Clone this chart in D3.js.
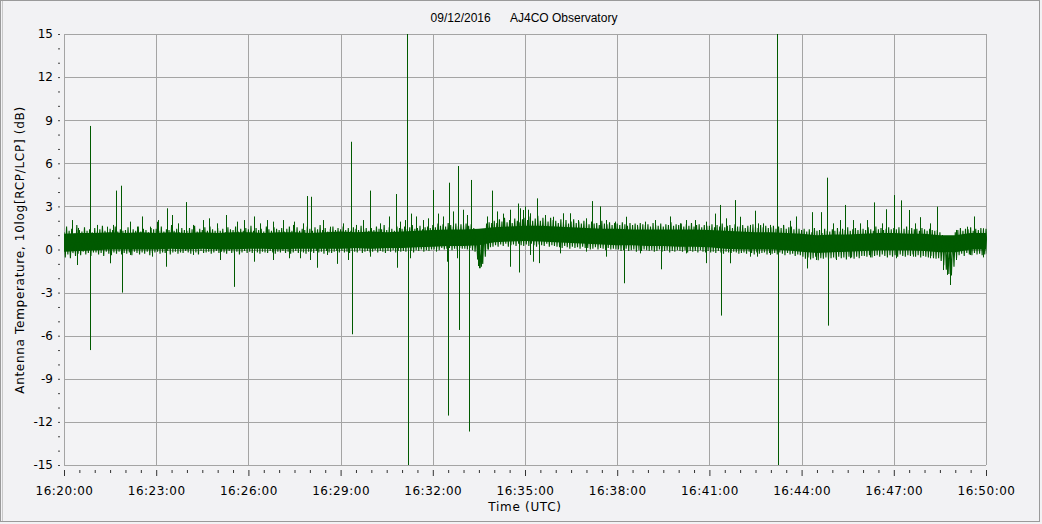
<!DOCTYPE html>
<html><head><meta charset="utf-8">
<script src="https://cdn.jsdelivr.net/npm/d3@7"></script>
<style>
html,body{margin:0;padding:0;background:#f2f2f4;}
svg{display:block;}
text{font-family:"DejaVu Sans",Verdana,sans-serif;fill:#000;}
</style></head><body>
<svg id="chart" width="1042" height="524"></svg>
<script>
// ---- Data ----
const titleDate = "09/12/2016";
const titleSite = "AJ4CO Observatory";
const yLabel = "Antenna Temperature, 10log[RCP/LCP] (dB)";
const xLabel = "Time (UTC)";
const startTime = "2016-09-12T16:20:00Z";
const endTime = "2016-09-12T16:50:00Z";
const yTicks = [-15, -12, -9, -6, -3, 0, 3, 6, 9, 12, 15];
const xTickSeconds = [0, 180, 360, 540, 720, 900, 1080, 1260, 1440, 1620, 1800];
const sampleStep = 5;  // seconds between max/min samples
const coreStep = 30;   // seconds between dense-core samples

// per-5 s maximum of the noise trace (dB), one row per minute from 16:20
const traceMax = [
 1.2,1.6,1.3,1.45,1.1,1.7,1.35,1.25,1.55,1.3,1.4,1.2,
 1.5,1.25,1.4,1.65,1.3,1.2,1.45,1.35,1.6,1.25,1.4,1.3,
 1.35,1.55,1.2,1.4,1.3,1.6,1.25,1.45,1.35,1.2,1.5,1.4,
 1.45,1.3,1.6,1.25,1.4,1.35,1.7,1.3,1.45,1.2,1.5,1.35,
 1.3,1.5,1.4,1.65,1.25,1.45,1.35,1.55,1.3,1.6,1.4,1.3,
 1.5,1.3,1.45,1.2,1.55,1.4,1.35,1.6,1.25,1.45,1.3,1.5,
 1.4,1.65,1.3,1.5,1.35,1.45,1.25,1.6,1.4,1.3,1.55,1.45,
 1.35,1.5,1.25,1.45,1.6,1.3,1.4,1.55,1.3,1.45,1.35,1.6,
 1.45,1.3,1.55,1.4,1.7,1.35,1.5,1.25,1.45,1.6,1.35,1.5,
 1.4,1.6,1.35,1.5,1.3,1.55,1.45,1.35,1.65,1.4,1.5,1.3,
 1.5,1.35,1.6,1.45,1.4,1.7,1.35,1.55,1.45,1.3,1.6,1.5,
 1.45,1.6,1.4,1.55,1.7,1.45,1.5,1.65,1.4,1.55,1.6,1.5,
 1.7,1.55,1.8,1.65,1.75,1.6,1.85,1.7,1.6,1.8,1.65,1.75,
 1.7,1.8,1.65,1.75,1.5,1.0,0.6,0.8,1.3,1.8,1.9,1.85,
 2.0,1.85,2.1,1.95,2.2,1.9,2.05,1.85,2.15,2.0,1.9,2.1,
 2.2,2.05,2.3,2.0,2.15,2.35,2.0,2.2,2.1,1.95,2.2,2.05,
 2.0,1.85,2.1,1.9,2.05,1.8,1.95,2.1,1.85,1.95,1.8,2.0,
 1.9,1.75,1.95,1.8,1.85,1.7,2.0,1.8,1.75,1.9,1.7,1.85,
 1.8,1.7,1.9,1.75,1.65,1.85,1.7,1.8,1.6,1.85,1.75,1.7,
 1.75,1.6,1.85,1.7,1.65,1.8,1.6,1.75,1.7,1.9,1.65,1.75,
 1.7,1.8,1.6,1.75,1.65,1.85,1.6,1.7,1.75,1.55,1.7,1.65,
 1.65,1.75,1.55,1.7,1.6,1.8,1.55,1.65,1.7,1.5,1.75,1.6,
 1.6,1.7,1.5,1.65,1.55,1.75,1.6,1.5,1.7,1.55,1.65,1.5,
 1.55,1.65,1.45,1.6,1.5,1.7,1.45,1.55,1.6,1.4,1.55,1.45,
 1.35,1.45,1.25,1.4,1.2,1.5,1.3,1.35,1.15,1.45,1.3,1.25,
 1.4,1.3,1.5,1.25,1.45,1.35,1.55,1.3,1.4,1.5,1.35,1.45,
 1.45,1.35,1.55,1.4,1.3,1.6,1.4,1.5,1.35,1.45,1.55,1.4,
 1.5,1.4,1.55,1.35,1.45,1.6,1.35,1.5,1.4,1.45,1.3,1.5,
 1.4,1.3,1.45,1.35,1.3,1.35,1.2,1.0,0.9,0.8,0.7,0.9,
 1.2,1.35,1.5,1.3,1.45,1.4,1.55,1.3,1.45,1.35,1.5,1.4,
 1.45
];
// per-5 s minimum of the noise trace (dB)
const traceMin = [
 -0.55,-0.35,-0.6,-0.25,-0.45,-0.3,-0.4,-0.15,-0.35,-0.25,-0.45,-0.2,
 -0.2,-0.35,-0.25,-0.45,-0.15,-0.3,-0.4,-0.2,-0.3,-0.15,-0.35,-0.25,
 -0.3,-0.2,-0.4,-0.15,-0.25,-0.35,-0.2,-0.3,-0.15,-0.4,-0.25,-0.2,
 -0.15,-0.3,-0.2,-0.25,-0.1,-0.35,-0.2,-0.15,-0.3,-0.2,-0.25,-0.1,
 -0.2,-0.3,-0.15,-0.2,-0.35,-0.1,-0.25,-0.2,-0.15,-0.3,-0.2,-0.1,
 -0.25,-0.15,-0.2,-0.3,-0.1,-0.25,-0.2,-0.15,-0.35,-0.2,-0.1,-0.25,
 -0.15,-0.25,-0.1,-0.2,-0.3,-0.15,-0.2,-0.25,-0.1,-0.2,-0.3,-0.15,
 -0.2,-0.1,-0.25,-0.15,-0.3,-0.2,-0.1,-0.25,-0.15,-0.2,-0.3,-0.15,
 -0.15,-0.25,-0.1,-0.2,-0.15,-0.3,-0.1,-0.2,-0.25,-0.15,-0.1,-0.2,
 -0.1,-0.2,-0.15,-0.25,-0.1,-0.15,-0.2,-0.05,-0.25,-0.15,-0.1,-0.2,
 -0.15,-0.05,-0.2,-0.1,-0.15,-0.25,-0.1,-0.15,-0.05,-0.2,-0.1,-0.15,
 -0.1,-0.15,-0.05,-0.1,-0.2,-0.05,-0.1,0.0,-0.15,-0.05,-0.1,0.0,
 0.0,0.05,-0.05,0.1,0.0,0.05,0.1,-0.05,0.05,0.0,0.1,0.05,
 0.05,0.0,0.1,-0.05,-0.15,-0.6,-1.3,-1.0,-0.5,0.0,0.15,0.2,
 0.3,0.2,0.35,0.25,0.4,0.2,0.3,0.35,0.25,0.4,0.3,0.25,
 0.35,0.25,0.4,0.3,0.2,0.35,0.3,0.25,0.4,0.2,0.3,0.25,
 0.2,0.15,0.1,0.25,0.15,0.05,0.2,0.1,0.15,0.05,0.2,0.1,
 0.1,0.0,0.05,0.15,0.0,0.1,0.05,-0.05,0.1,0.0,0.05,0.0,
 0.0,-0.1,-0.05,0.05,-0.1,-0.05,0.0,-0.15,-0.05,-0.1,0.0,-0.05,
 -0.1,-0.05,-0.15,-0.1,0.0,-0.15,-0.1,-0.05,-0.2,-0.1,-0.15,-0.05,
 -0.1,-0.15,-0.05,-0.2,-0.1,-0.15,-0.1,-0.2,-0.05,-0.15,-0.2,-0.1,
 -0.2,-0.15,-0.25,-0.1,-0.2,-0.3,-0.15,-0.2,-0.25,-0.15,-0.2,-0.3,
 -0.25,-0.2,-0.3,-0.15,-0.25,-0.35,-0.2,-0.3,-0.25,-0.2,-0.35,-0.25,
 -0.3,-0.25,-0.35,-0.2,-0.3,-0.4,-0.25,-0.35,-0.3,-0.45,-0.35,-0.4,
 -0.5,-0.65,-0.55,-0.7,-0.6,-0.5,-0.75,-0.6,-0.65,-0.55,-0.7,-0.6,
 -0.55,-0.65,-0.5,-0.6,-0.55,-0.7,-0.5,-0.55,-0.65,-0.5,-0.6,-0.45,
 -0.45,-0.5,-0.4,-0.55,-0.45,-0.4,-0.5,-0.35,-0.45,-0.55,-0.4,-0.5,
 -0.4,-0.5,-0.35,-0.45,-0.5,-0.4,-0.45,-0.35,-0.5,-0.4,-0.55,-0.45,
 -0.5,-0.55,-0.45,-0.6,-0.65,-0.6,-0.8,-1.1,-1.4,-1.7,-1.8,-1.2,
 -0.6,-0.4,-0.3,-0.45,-0.25,-0.35,-0.4,-0.25,-0.35,-0.3,-0.4,-0.35,
 -0.3
];
// solid dense core of the trace, one value every 30 s (dB)
const coreTop = [
 1.1,1.15,1.15,1.2,1.15,1.2,1.15,1.2,1.15,1.2,1.15,1.2,1.2,1.15,1.2,1.2,1.15,1.2,1.25,1.2,
 1.25,1.2,1.25,1.3,1.35,1.4,1.4,1.45,1.55,1.6,1.65,1.65,1.6,1.55,1.5,1.45,1.45,1.4,1.4,1.4,
 1.4,1.4,1.35,1.3,1.25,1.2,1.2,1.15,1.1,1.0,1.05,1.05,1.1,1.15,1.15,1.1,1.1,1.0,1.0,1.15,1.15
];
const coreBottom = [
 -0.15,-0.1,-0.05,0.0,0.0,0.0,0.0,0.05,0.0,0.05,0.0,0.0,0.05,0.05,0.0,0.05,0.05,0.05,0.05,0.1,
 0.05,0.1,0.1,0.15,0.2,0.25,0.25,0.3,0.5,0.55,0.6,0.55,0.5,0.45,0.4,0.35,0.3,0.3,0.25,0.25,
 0.2,0.2,0.15,0.05,0.0,0.0,0.0,-0.05,-0.15,-0.25,-0.2,-0.15,-0.1,-0.05,-0.05,-0.05,-0.1,-0.2,-0.2,0.0,0.0
];
// isolated needles: [seconds after 16:20:00, peak value dB]
const spikes = [
 [50,8.6],[51,-7.0],[101,4.1],[112,4.44],[113,-3.0],[153,2.3],[181,1.93],[199,-1.2],[202,2.87],
 [239,3.3],[332,-2.6],[370,2.3],[475,3.72],[483,3.67],[493,-1.27],[533,-1.0],[561,7.5],[562,-5.9],
 [598,4.1],[635,2.3],[649,3.86],[650,-1.27],[670,16],[672,-16],[678,2.5],[721,4.14],
 [751,4.65],[749,-11.56],[770,5.81],[771,-5.6],[795,4.84],[790,-12.67],[836,4.1],[871,-1.2],
 [806,-0.7],[808,-1.15],[811,-1.3],[814,-1.2],[817,-0.9],
 [887,3.2],[888,-1.6],[900,3.0],[924,3.56],[927,-0.95],[1031,3.37],[1047,3.0],[1094,-2.35],
 [1165,-1.38],[1183,2.3],[1253,-0.95],[1271,2.5],[1281,3.1],[1282,-4.6],[1310,3.44],[1349,2.7],
 [1392,16],[1393,-16],[1418,2.0],[1429,2.3],[1451,-1.32],[1461,2.6],[1478,2.6],[1490,5.0],[1491,-5.3],
 [1525,3.1],[1582,3.28],[1604,2.8],[1621,3.79],[1635,3.42],[1649,2.75],[1672,2.25],[1705,2.98],
 [1730,-2.47],[1776,2.3],
 [15,2.05],[27,1.5],[64,1.71],[83,1.59],[96,1.71],[129,1.94],[142,1.59],[168,1.59],[184,2.05],
 [210,2.4],[223,1.82],[252,1.71],[272,2.05],[284,2.17],[298,1.82],[316,2.4],[337,1.94],[352,2.05],
 [383,1.82],[396,2.05],[409,1.94],[428,2.05],[448,1.71],
 [25,-1.08],[90,-0.96],[129,-0.38],[171,-0.5],[252,-0.38],[305,-0.73],[371,-0.85],[409,-0.73],[440,-0.61],
 [449,1.94],[467,1.82],[506,2.05],[519,1.59],[545,1.82],[571,1.71],[584,2.05],[617,1.82],[656,1.94],
 [666,2.05],[688,2.3],[701,2.05],[711,2.17],[731,2.5],[740,2.3],[760,2.65],[779,2.77],[786,2.4],
 [825,2.3],[845,2.65],[857,2.5],[871,2.77],[890,2.87],[906,2.77],
 [461,-0.61],[480,-0.73],[513,-0.38],[555,-0.73],[597,-0.5],[675,-0.61],[727,-0.15],[747,-0.85],[767,-0.61],[828,0.0],
 [897,2.75],[910,2.52],[939,2.4],[955,2.28],[975,2.52],[988,2.52],[1004,2.05],[1020,2.17],[1059,2.05],
 [1076,1.94],[1097,2.28],[1118,1.71],[1134,1.94],[1154,2.05],[1202,1.82],[1215,2.05],[1232,2.05],
 [1254,1.94],[1293,2.17],[1320,2.28],[1339,1.71],[1355,1.82],
 [910,-0.38],[916,-0.85],[968,-0.27],[1020,-0.15],[1059,-0.5],[1124,-0.27],[1215,-0.27],[1300,-0.96],[1339,-0.5],
 [1365,1.82],[1378,1.71],[1404,1.71],[1502,1.82],[1515,2.05],[1541,2.05],[1554,1.82],[1567,2.05],
 [1596,1.82],[1661,1.82],[1690,1.82],[1742,1.36],[1762,1.59],[1795,1.48],
 [1352,-0.5],[1378,-0.38],[1469,-0.73],[1508,-0.73],[1534,-0.61],[1573,-0.55],[1625,-0.61],[1658,-0.5],
 [1690,-0.61],[1716,-1.43],[1723,-1.77],[1742,-0.73],[1768,-0.38],[1795,-0.55]
];

// ---- Layout ----
const W = 1042, H = 524;
const plot = {left: 64, right: 986, top: 34, bottom: 465};
const green = "#005a00";
const gridColor = "#a4a4a4";

const svg = d3.select("#chart");
const t0 = new Date(startTime), t1 = new Date(endTime);
const x = d3.scaleUtc().domain([t0, t1]).range([plot.left, plot.right]);
const y = d3.scaleLinear().domain([-15, 15]).range([plot.bottom, plot.top]);
const toDate = s => new Date(t0.getTime() + s * 1000);

// outer frame
svg.append("rect").attr("x", 0.5).attr("y", 0.5).attr("width", W - 3).attr("height", H - 3)
  .attr("fill", "#f2f2f4").attr("stroke", "#9a9a9a");
svg.append("line").attr("x1", 2.5).attr("x2", 2.5).attr("y1", 1).attr("y2", H - 3).attr("stroke", "#c8c8c8");

// plot background
svg.append("rect").attr("x", plot.left).attr("y", plot.top)
  .attr("width", plot.right - plot.left).attr("height", plot.bottom - plot.top)
  .attr("fill", "#f3f3f5");

// grid
const majorTimes = xTickSeconds.map(toDate);
const grid = svg.append("g").attr("shape-rendering", "crispEdges");
grid.selectAll("line.vx").data(majorTimes).join("line")
  .attr("x1", d => Math.round(x(d)) + 0.5).attr("x2", d => Math.round(x(d)) + 0.5)
  .attr("y1", plot.top).attr("y2", plot.bottom).attr("stroke", gridColor);
grid.selectAll("line.hy").data(yTicks).join("line")
  .attr("y1", d => Math.round(y(d)) + 0.5).attr("y2", d => Math.round(y(d)) + 0.5)
  .attr("x1", plot.left).attr("x2", plot.right).attr("stroke", gridColor);

// clip
svg.append("clipPath").attr("id", "clip").append("rect")
  .attr("x", plot.left).attr("y", plot.top)
  .attr("width", plot.right - plot.left + 1).attr("height", plot.bottom - plot.top);
const g = svg.append("g").attr("clip-path", "url(#clip)");

// dense core
const core = coreTop.map((v, i) => ({s: i * coreStep, top: v, bot: coreBottom[i]}));
g.append("path").datum(core)
  .attr("d", d3.area().x(d => x(toDate(d.s))).y0(d => y(d.bot)).y1(d => y(d.top)))
  .attr("fill", green);

// noise trace drawn as max/min zigzag
const pts = [];
traceMax.forEach((h, i) => {
  pts.push([i * sampleStep, h]);
  pts.push([i * sampleStep + sampleStep / 2, traceMin[i]]);
});
g.append("path").datum(pts)
  .attr("d", d3.line().x(d => x(toDate(d[0]))).y(d => y(d[1])))
  .attr("fill", "none").attr("stroke", green).attr("stroke-width", 1.1);

// needles
const mid = s => {
  const f = s / coreStep, i = Math.min(Math.floor(f), coreTop.length - 2), r = f - i;
  const hi = coreTop[i] + (coreTop[i + 1] - coreTop[i]) * r;
  const lo = coreBottom[i] + (coreBottom[i + 1] - coreBottom[i]) * r;
  return (hi + lo) / 2;
};
g.selectAll("line.sp").data(spikes).join("line")
  .attr("class", "sp")
  .attr("x1", d => Math.round(x(toDate(d[0]))) + 0.5)
  .attr("x2", d => Math.round(x(toDate(d[0]))) + 0.5)
  .attr("y1", d => y(mid(d[0])))
  .attr("y2", d => y(d[1]))
  .attr("stroke", green).attr("stroke-width", 1);

// y axis
const yAxis = d3.axisLeft(y).tickValues(yTicks).tickSize(2).tickPadding(5).tickFormat(d => String(d));
const ya = svg.append("g").attr("transform", `translate(${plot.left - 4},0)`).call(yAxis);
ya.select(".domain").remove();
ya.selectAll("line").attr("stroke", "#444");
ya.selectAll("text").style("font-size", "12px");
const yMinor = d3.range(-15, 16).filter(v => !yTicks.includes(v));
const ym = svg.append("g").attr("transform", `translate(${plot.left - 4},0)`)
  .call(d3.axisLeft(y).tickValues(yMinor).tickSize(2).tickFormat(""));
ym.select(".domain").remove();
ym.selectAll("line").attr("stroke", "#444");

// x axis
const xa = svg.append("g").attr("transform", `translate(0,${plot.bottom + 5})`)
  .call(d3.axisBottom(x).tickValues(majorTimes).tickSize(6).tickPadding(10).tickFormat(d3.utcFormat("%H:%M:%S")));
xa.select(".domain").remove();
xa.selectAll("line").attr("stroke", "#333");
xa.selectAll("text").style("font-size", "12px").style("letter-spacing", "0.5px");
const minorTimes = d3.range(0, 1801, 30).filter(s => s % 180 !== 0).map(toDate);
const xm = svg.append("g").attr("transform", `translate(0,${plot.bottom + 5})`)
  .call(d3.axisBottom(x).tickValues(minorTimes).tickSize(3).tickFormat(""));
xm.select(".domain").remove();
xm.selectAll("line").attr("stroke", "#333");

// title
const title = svg.append("text").attr("x", 524).attr("y", 22).attr("text-anchor", "middle")
  .style("font-family", "Liberation Sans, Arial, sans-serif").style("font-size", "12px")
  .style("white-space", "pre");
title.text(titleDate + "      " + titleSite);

// axis labels
svg.append("text").attr("x", 525).attr("y", 511).attr("text-anchor", "middle")
  .style("font-size", "12px").style("letter-spacing", "0.7px").text(xLabel);
svg.append("text").attr("transform", "translate(24,250) rotate(-90)").attr("text-anchor", "middle")
  .style("font-size", "12px").style("letter-spacing", "0.7px").text(yLabel);
</script></body></html>
